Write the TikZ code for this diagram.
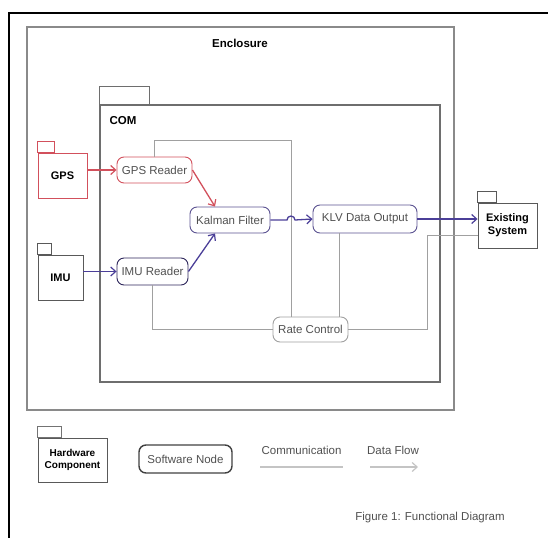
\documentclass[tikz,border=0pt]{standalone}
\usepackage{fontspec}
\setmainfont{Liberation Sans}
\usetikzlibrary{arrows.meta,positioning}
\definecolor{gpsRed}{HTML}{D2505C}
\definecolor{flowNavy}{HTML}{4B3F98}
\definecolor{commGray}{HTML}{A0A0A0}
\definecolor{frameGray}{HTML}{8A8A8A}
\definecolor{comGray}{HTML}{6E6E6E}
\definecolor{labelGray}{HTML}{505050}
\definecolor{legendGray}{HTML}{C4C4C4}

\tikzset{
	hwbox/.style={draw=black!65,line width=0.9pt,align=center,inner sep=1pt,
		font=\fontsize{11}{13}\selectfont\bfseries},
	swbox/.style={draw=#1,rounded corners=7pt,line width=0.9pt,inner sep=1pt,
		text=labelGray,font=\fontsize{11.5}{13}\selectfont},
	swbox/.default=comGray,
	flow/.style={-{Straight Barb[length=5pt,width=9pt,line width=1.2pt]},line width=1.3pt,color=#1},
	flow/.default=flowNavy,
	comm/.style={commGray,line width=1pt},
}

\begin{document}
\begin{tikzpicture}[x=1pt,y=-1pt]
	\useasboundingbox(0,0)rectangle(548,538);
	% page frame
	\draw[line width=2pt](548,13)--(9,13)--(9,538);
	% enclosure and COM
	\draw[frameGray,line width=1.6pt](27,27)rectangle(454,410);
	\node[font=\fontsize{11.5}{13}\selectfont\bfseries]at(240,43){Enclosure};
	\draw[comGray,line width=1.6pt](100,105)rectangle(440,382);
	\draw[comGray,line width=1pt](99,86)rectangle(149,105);
	\node[font=\fontsize{11.5}{13}\selectfont\bfseries,anchor=west]at(106,121){COM};
	% hardware parts
	\node[hwbox,draw=gpsRed,minimum width=49,minimum height=45](gps)at(62.5,175.5){GPS};
	\draw[gpsRed,line width=0.9pt](gps.north west)rectangle++(17,-11);
	\node[hwbox,minimum width=45,minimum height=45](imu)at(60.5,277.5){IMU};
	\draw[black!65,line width=0.9pt](imu.north west)rectangle++(14,-11);
	\node[hwbox,minimum width=59,minimum height=45](exist)at(507.5,225.5){Existing\\System};
	\draw[black!65,line width=0.9pt](exist.north west)rectangle++(19,-11);
	% software nodes
	\node[swbox=gpsRed,minimum width=75,minimum height=26](gpsr)at(154.5,170){GPS Reader};
	\node[swbox=flowNavy!70!gray,minimum width=80,minimum height=26](kal)at(230,220){Kalman Filter};
	\node[swbox=flowNavy!60!black,minimum width=71,minimum height=27](imur)at(152.5,271.5){IMU Reader};
	\node[swbox=flowNavy!70!gray,minimum width=104,minimum height=28](klv)at(365,219){KLV Data Output};
	\node[swbox=commGray,minimum width=75,minimum height=25](rate)at(310.5,329.5){Rate Control};
	% communication
	\coordinate(commTop)at(291,140);
	\coordinate(commOut)at(427,235);
	\draw[comm](gpsr.north)|-(commTop)--(commTop|-rate.north);
	\draw[comm](imur.south)|-(rate.west);
	\draw[comm]([xshift=-26]klv.south)--([xshift=-26]klv.south|-rate.north);
	\draw[comm](rate.east)-|(commOut)--(commOut-|exist.west);
	% data flow
	\draw[flow=gpsRed](gps.east|-gpsr.west)--(gpsr.west);
	\draw[flow=gpsRed](gpsr.east)--([xshift=-15]kal.north);
	\draw[flow](imu.east|-imur.west)--(imur.west);
	\draw[flow](imur.east)--([xshift=-15]kal.south);
	\draw[flow](kal.east)--(287,220)arc[start angle=180,end angle=360,radius=4]--(klv.west);
	\draw[flow](klv.east)--(exist.west|-klv.east);
	% legend
	\node[hwbox,minimum width=69,minimum height=44,font=\fontsize{10}{12}\selectfont\bfseries](lhw)at(72.5,460){Hardware\\Component};
	\draw[black!55,line width=0.9pt](lhw.north west)rectangle++(24,-11);
	\node[swbox=black!75,line width=1.4pt,minimum width=93,minimum height=28](lsw)at(185.5,459){Software Node};
	\node[text=labelGray,font=\fontsize{11.5}{13}\selectfont](lcomm)at(301.5,450){Communication};
	\node[text=labelGray,font=\fontsize{11.5}{13}\selectfont](lflow)at(393,450){Data Flow};
	\coordinate(lcommA)at(260,467);
	\coordinate(lflowA)at(370,467);
	\draw[legendGray,line width=1.2pt](lcommA)--++(83,0);
	\draw[flow=legendGray](lflowA)--++(48,0);
	\node[font=\fontsize{11.5}{13}\selectfont,text=labelGray](caption)at(430,518){Figure 1: Functional Diagram};
\end{tikzpicture}
\end{document}
